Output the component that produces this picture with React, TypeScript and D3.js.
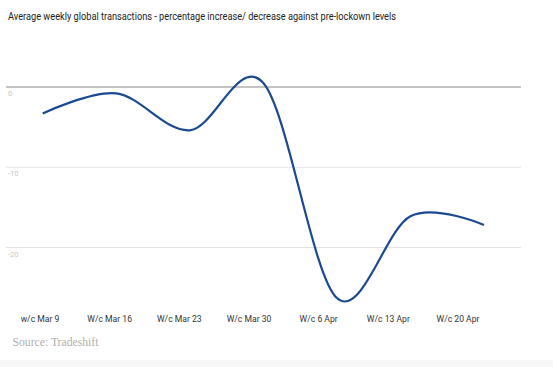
import { useEffect, useRef } from "react"
import * as d3 from "d3"

const weeks = ["w/c Mar 9", "W/c Mar 16", "W/c Mar 23", "W/c Mar 30", "W/c 6 Apr", "W/c 13 Apr", "W/c 20 Apr"]
const changePct = [-3.3, -0.8, -5.4, 0.5, -26.3, -16.1, -17.2]
const yTicks = [0, -10, -20]

export default function App() {
  const svgRef = useRef<SVGSVGElement>(null)

  useEffect(() => {
    document.body.style.margin = "0"
    if (!svgRef.current) return
    const svg = d3.select(svgRef.current)
    svg.selectAll("*").remove()

    const width = 553
    const height = 367

    // * Scales
    const x = d3.scalePoint<string>().domain(weeks).range([42.7, 484])
    const xLabel = d3.scalePoint<string>().domain(weeks).range([40, 458])
    const y = d3.scaleLinear().domain([0, -20]).range([87, 247.5])

    svg.append("rect").attr("width", width).attr("height", height).attr("fill", "#fff")
    svg.append("rect").attr("y", 360).attr("width", width).attr("height", 7).attr("fill", "#f7f7f7")

    // * Title
    svg
      .append("text")
      .attr("x", 8)
      .attr("y", 20)
      .attr("font-family", "Roboto, sans-serif")
      .attr("font-size", "10.5px")
      .attr("fill", "#222")
      .attr("textLength", 388)
      .attr("lengthAdjust", "spacingAndGlyphs")
      .text("Average weekly global transactions - percentage increase/ decrease against pre-lockown levels")

    // * Gridlines + y labels
    yTicks.forEach((t) => {
      svg
        .append("line")
        .attr("x1", 6)
        .attr("x2", 521)
        .attr("y1", y(t))
        .attr("y2", y(t))
        .attr("stroke", t === 0 ? "#8a8a8a" : "#e4e4e4")
        .attr("stroke-width", t === 0 ? 1.2 : 1)

      svg
        .append("text")
        .attr("x", 8)
        .attr("y", y(t) + 9)
        .attr("font-family", "Roboto, sans-serif")
        .attr("font-size", "7.5px")
        .attr("fill", "#c8c8c8")
        .text(t)
    })

    // * Line
    const line = d3
      .line<number>()
      .x((_, i) => x(weeks[i]) as number)
      .y((d) => y(d))
      .curve(d3.curveCardinal.tension(0))

    svg
      .append("path")
      .datum(changePct)
      .attr("d", line)
      .attr("fill", "none")
      .attr("stroke", "#1c4a90")
      .attr("stroke-width", 2.2)

    // * X labels
    weeks.forEach((w) => {
      svg
        .append("text")
        .attr("x", xLabel(w) as number)
        .attr("y", 322)
        .attr("text-anchor", "middle")
        .attr("font-family", "Roboto, sans-serif")
        .attr("font-size", "8.6px")
        .attr("fill", "#333")
        .text(w)
    })

    // * Source
    svg
      .append("text")
      .attr("x", 12.5)
      .attr("y", 345.5)
      .attr("font-family", "'Liberation Serif', serif")
      .attr("font-size", "12.5px")
      .attr("fill", "#b0b0b0")
      .attr("textLength", 86)
      .attr("lengthAdjust", "spacingAndGlyphs")
      .text("Source: Tradeshift")
  }, [])

  return <svg ref={svgRef} width={553} height={367} style={{ display: "block" }}></svg>
}
